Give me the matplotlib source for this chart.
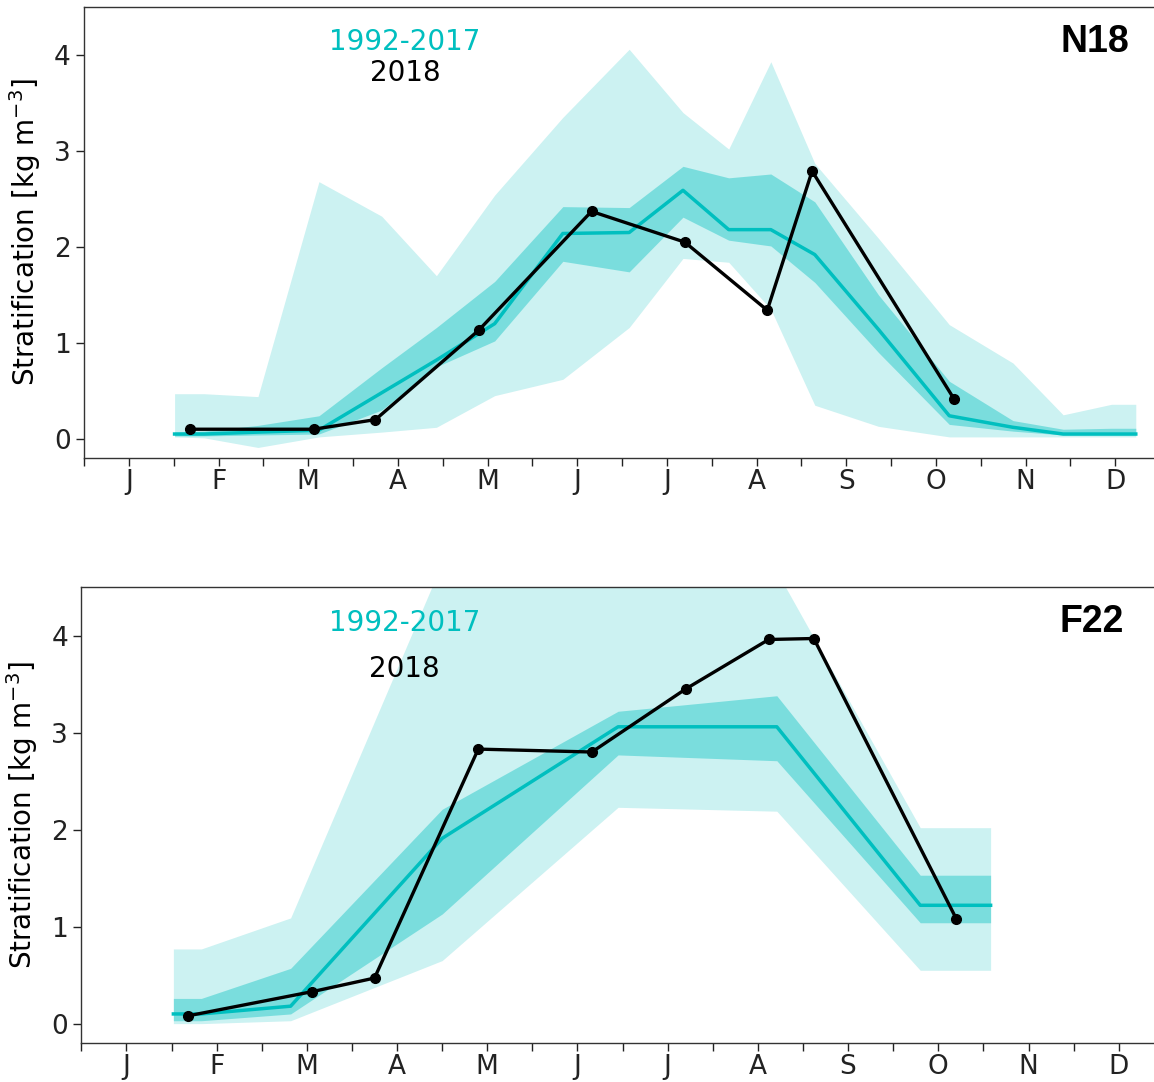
import matplotlib
matplotlib.use("Agg")
import matplotlib.pyplot as plt

# month positions: 0 = middle of January
month_labels = ["J", "F", "M", "A", "M", "J", "J", "A", "S", "O", "N", "D"]

# N18 climatology 1992-2017
n18_x = [0.51, 0.84, 1.44, 2.12, 2.82, 3.43, 4.08, 4.84, 5.58, 6.18, 6.69, 7.16, 7.65, 8.36, 9.15, 9.86, 10.42, 10.96, 11.23]
n18_min = [0.02, 0.01, -0.09, 0.02, 0.07, 0.12, 0.45, 0.62, 1.16, 1.88, 1.84, 1.35, 0.35, 0.13, 0.02, 0.02, 0.02, 0.02, 0.02]
n18_q1 = [0.03, 0.03, 0.04, 0.05, 0.30, 0.75, 1.02, 1.85, 1.74, 2.31, 2.07, 2.01, 1.63, 0.90, 0.15, 0.08, 0.04, 0.04, 0.04]
n18_med = [0.05, 0.05, 0.07, 0.09, 0.48, 0.82, 1.20, 2.14, 2.15, 2.59, 2.18, 2.18, 1.92, 1.14, 0.24, 0.12, 0.05, 0.05, 0.05]
n18_q3 = [0.07, 0.08, 0.14, 0.24, 0.74, 1.16, 1.64, 2.42, 2.41, 2.84, 2.72, 2.76, 2.47, 1.50, 0.60, 0.19, 0.10, 0.11, 0.11]
n18_max = [0.47, 0.47, 0.44, 2.68, 2.32, 1.70, 2.54, 3.35, 4.06, 3.40, 3.02, 3.93, 2.87, 2.09, 1.19, 0.79, 0.25, 0.36, 0.36]

# F22 climatology 1992-2017
f22_x = [0.52, 0.83, 1.82, 3.50, 5.45, 7.21, 8.80, 9.58]
f22_min = [0.00, 0.00, 0.03, 0.65, 2.23, 2.19, 0.55, 0.55]
f22_q1 = [0.03, 0.03, 0.10, 1.13, 2.77, 2.71, 1.04, 1.04]
f22_med = [0.10, 0.10, 0.18, 1.91, 3.06, 3.06, 1.22, 1.22]
f22_q3 = [0.26, 0.26, 0.57, 2.21, 3.22, 3.38, 1.53, 1.53]
f22_max = [0.77, 0.77, 1.09, 4.75, 5.20, 4.66, 2.02, 2.02]

# 2018 cruises
obs_x = [0.68, 2.06, 2.75, 3.90, 5.16, 6.20, 7.12, 7.62, 9.20]
n18_2018 = [0.10, 0.10, 0.20, 1.13, 2.37, 2.05, 1.34, 2.79, 0.42]
f22_2018 = [0.08, 0.33, 0.47, 2.83, 2.80, 3.45, 3.96, 3.97, 1.08]

CYAN = "#00BFBF"

fig = plt.figure(figsize=(11.54, 10.82), dpi=100)
ax_top = fig.add_axes([0.0728, 0.5767, 0.9324, 0.4168])
ax_bot = fig.add_axes([0.0705, 0.0360, 0.9380, 0.4214])

panels = [
    (ax_top, "N18", 10.77, n18_x, n18_min, n18_q1, n18_med, n18_q3, n18_max, n18_2018, (4.14, 3.81)),
    (ax_bot, "F22", 10.70, f22_x, f22_min, f22_q1, f22_med, f22_q3, f22_max, f22_2018, (4.13, 3.66)),
]

for ax, name, name_x, x, lo, q1, med, q3, hi, obs, text_y in panels:
    ax.fill_between(x, lo, hi, color=CYAN, alpha=0.2, linewidth=0)
    ax.fill_between(x, q1, q3, color=CYAN, alpha=0.4, linewidth=0)
    ax.plot(x, med, color=CYAN, linewidth=2.5)
    ax.plot(obs_x, obs, color="black", linewidth=2.4, marker="o", markersize=7)

    ax.set_xlim(-0.5, 11.5)
    ax.set_ylim(-0.2, 4.5)
    ax.set_yticks([0, 1, 2, 3, 4])
    ax.set_xticks(range(12))
    ax.set_xticklabels(month_labels)
    ax.set_xticks([m + 0.5 for m in range(-1, 12)], minor=True)
    ax.tick_params(axis="both", which="both", direction="out", length=6, width=1, labelsize=19, colors="#222222")
    ax.tick_params(axis="x", which="major", pad=2)
    ax.set_ylabel(r"Stratification [kg m$^{-3}$]", fontsize=20, labelpad=8)
    for spine in ax.spines.values():
        spine.set_color("#333333")
        spine.set_linewidth(1.0)

    ax.text(3.08, text_y[0], "1992-2017", color=CYAN, fontsize=20, ha="center", va="center")
    ax.text(3.08, text_y[1], "2018", color="black", fontsize=20, ha="center", va="center")
    ax.text(name_x, 4.14, name, fontsize=27, fontweight="bold", family="Liberation Sans", ha="center", va="center")

fig.savefig("out.png", dpi=100)
